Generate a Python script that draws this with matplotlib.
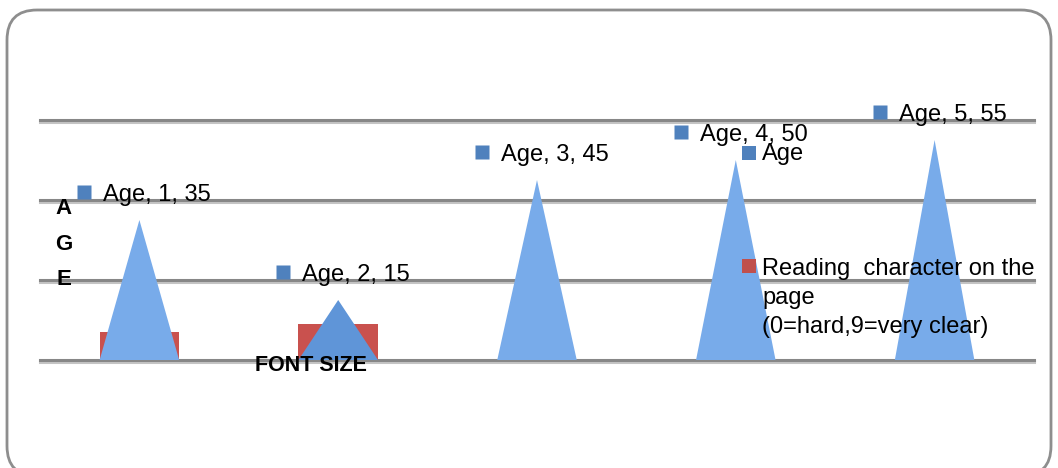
import numpy as np
import matplotlib.pyplot as plt
from matplotlib.patches import FancyBboxPatch, Rectangle
from matplotlib.transforms import offset_copy
import matplotlib.patheffects as pe

# chart data
categories = [1, 2, 3, 4, 5]
age = [35, 15, 45, 50, 55]
reading = [7, 9, 0, 0, 0]
series_names = ['Age', 'Reading  character on the\npage\n(0=hard,9=very clear)']
series_colors = ['#4f81bd', '#c0504d']
yticks = [0, 20, 40, 60]
x_title = 'FONT SIZE'
y_title = 'A\nG\nE'

plt.rcParams['font.family'] = ['Liberation Sans', 'DejaVu Sans']

W, H = 1058, 468
fig = plt.figure(figsize=(W / 100, H / 100), dpi=100)

# background layer in pixel units for the rounded frame
bg = fig.add_axes([0, 0, 1, 1], zorder=0)
bg.set_xlim(0, W)
bg.set_ylim(H, 0)
bg.axis('off')
bg.add_patch(FancyBboxPatch((7, 10), 1044, 466, boxstyle='round,pad=0,rounding_size=30',
                            fc='white', ec='#8e8e8e', lw=2))

# plot area
ax = fig.add_axes([40 / W, 108 / H, 994 / W, 240 / H], zorder=1)
ax.patch.set_alpha(0)
ax.set_xlim(0.5, 5.5)
ax.set_ylim(0, 60)
for s in ax.spines.values():
    s.set_visible(False)
ax.set_xticks([])
ax.set_yticks([])
for t in yticks:
    ax.axhline(t, color='#878787', lw=2.2, zorder=1, clip_on=False,
               path_effects=[pe.SimpleLineShadow(offset=(0, -1.5), shadow_color='#c4c4c4', alpha=1),
                             pe.Normal()])

half = 0.2
x = np.array(categories)
ax.bar(x, reading, width=2 * half, color='#c9514e', zorder=2)
cone_colors = ['#78abea', '#5f95d8', '#78abea', '#78abea', '#78abea']
for xi, v, c in zip(x, age, cone_colors):
    ax.fill([xi - half, xi, xi + half], [0, v, 0], color=c, lw=0, zorder=3)

# data labels, offset up-left of each cone tip
sq_tr = offset_copy(ax.transData, fig=fig, x=-55, y=28, units='dots')
tx_tr = offset_copy(ax.transData, fig=fig, x=-36, y=19, units='dots')
for xi, v in zip(x, age):
    ax.plot(xi, v, marker='s', ms=10, color=series_colors[0], mec='none',
            transform=sq_tr, clip_on=False, zorder=4)
    ax.text(xi, v, f'{series_names[0]}, {xi}, {v}', transform=tx_tr, fontsize=17,
            va='baseline', ha='left', zorder=4)

# overlay for legend and titles
top = fig.add_axes([0, 0, 1, 1], zorder=5)
top.set_xlim(0, W)
top.set_ylim(H, 0)
top.axis('off')
top.patch.set_alpha(0)

top.add_patch(Rectangle((742, 146), 14, 14, color=series_colors[0], lw=0))
top.text(762, 160, series_names[0], fontsize=17, va='baseline', ha='left')
top.add_patch(Rectangle((742, 259), 14, 14, color=series_colors[1], lw=0))
top.text(762, 333, series_names[1], fontsize=17, va='baseline', ha='left', linespacing=1.41)

top.text(311, 371, x_title, fontsize=15.5, fontweight='bold', ha='center', va='baseline')
top.text(64, 244, y_title, fontsize=16, fontweight='bold', ha='center', va='center',
         linespacing=1.9)

fig.savefig('out.png', dpi=100)
